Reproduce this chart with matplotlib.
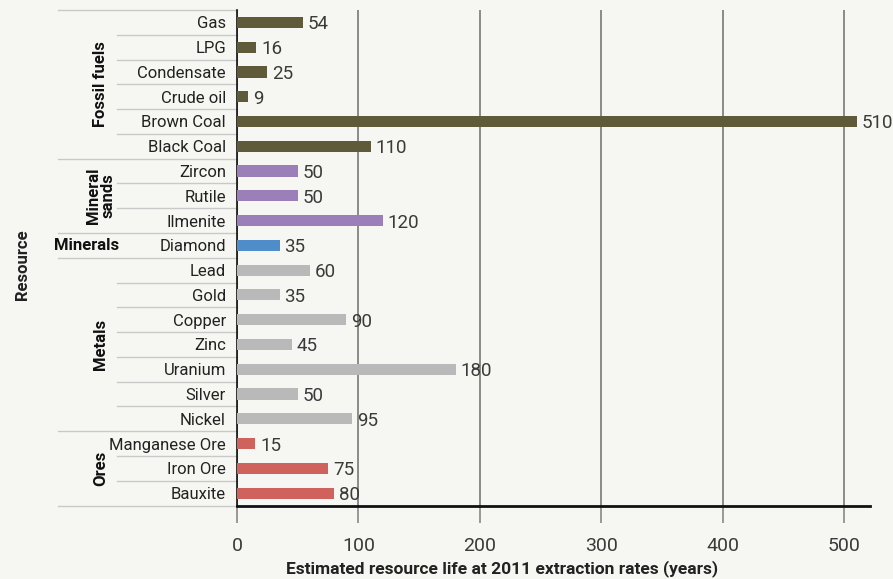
import matplotlib.pyplot as plt
import matplotlib.transforms as mtransforms

# data
resources = ["Gas", "LPG", "Condensate", "Crude oil", "Brown Coal", "Black Coal",
             "Zircon", "Rutile", "Ilmenite", "Diamond",
             "Lead", "Gold", "Copper", "Zinc", "Uranium", "Silver", "Nickel",
             "Manganese Ore", "Iron Ore", "Bauxite"]
years = [54, 16, 25, 9, 510, 110,
         50, 50, 120, 35,
         60, 35, 90, 45, 180, 50, 95,
         15, 75, 80]
groups = ["Fossil fuels"] * 6 + ["Mineral sands"] * 3 + ["Minerals"] + ["Metals"] * 7 + ["Ores"] * 3
group_colors = {"Fossil fuels": "#5f5a39", "Mineral sands": "#9a7fb9",
                "Minerals": "#4f8dca", "Metals": "#b9b9b9", "Ores": "#d0625e"}
xticks = [0, 100, 200, 300, 400, 500]

bg = "#f6f6f2"
plt.rcParams['font.family'] = ['Roboto', 'DejaVu Sans']

fig = plt.figure(figsize=(8.93, 5.79), dpi=100, facecolor=bg)
ax = fig.add_axes([237 / 893, 1 - 506 / 579, 633 / 893, 496 / 579])
ax.set_facecolor(bg)

pos = list(range(len(resources)))
colors = [group_colors[g] for g in groups]
ax.barh(pos, years, height=0.45, color=colors, zorder=3)
for p, v in zip(pos, years):
    ax.text(v + 4, p + 0.08, str(v), va="center", ha="left", fontsize=13.5,
            color="#3a3a3a", zorder=4)

ax.set_xlim(0, 521)
ax.set_ylim(19.52, -0.5)
ax.set_yticks(pos)
ax.set_yticklabels(resources, fontsize=12, color="#222222")
ax.tick_params(axis="y", length=0, pad=8)
ax.set_xticks(xticks)
ax.set_xticklabels([str(t) for t in xticks], fontsize=14, color="#3a3a3a")
ax.tick_params(axis="x", length=12, color="#888888", width=1.2, pad=10)
ax.grid(axis="x", color="#6e6e6e", linewidth=1.1, zorder=1)

for s in ["top", "right"]:
    ax.spines[s].set_visible(False)
ax.spines["bottom"].set_linewidth(2)
ax.spines["bottom"].set_color("#111111")
ax.spines["left"].set_linewidth(1.2)
ax.spines["left"].set_color("#111111")

# row separators in the label area
trans = mtransforms.blended_transform_factory(ax.transAxes, ax.transData)
boundaries = [i - 0.5 for i in range(len(resources) + 1)]
for b in boundaries:
    idx_above = int(b - 0.5)
    idx_below = int(b + 0.5)
    if idx_above < 0 or idx_below >= len(resources) or groups[idx_above] != groups[idx_below]:
        x0 = -0.283
    else:
        x0 = -0.19
    ax.plot([x0, 0], [b, b], transform=trans, color="#c9c9c9", linewidth=1,
            clip_on=False, zorder=0)

# group labels
glabels = [("Fossil fuels", 2.5, 90, "Fossil fuels"),
           ("Mineral sands", 7, 90, "Mineral\nsands"),
           ("Minerals", 9, 0, "Minerals"),
           ("Metals", 13, 90, "Metals"),
           ("Ores", 18, 90, "Ores")]
for name, yc, rot, txt in glabels:
    xp = -0.215 if rot == 90 else -0.238
    ax.text(xp, yc, txt, transform=trans, rotation=rot, ha="center", va="center",
            fontsize=12, fontweight="bold", color="#111111", linespacing=0.95)

fig.text(22 / 893, 1 - 265 / 579, "Resource", rotation=90, ha="center", va="center",
         fontsize=12, fontweight="bold", color="#222222")
fig.text(502 / 893, 1 - 569 / 579, "Estimated resource life at 2011 extraction rates (years)",
         ha="center", va="center", fontsize=12.5, fontweight="bold", color="#222222")

fig.savefig("out.png", dpi=100, facecolor=bg)
